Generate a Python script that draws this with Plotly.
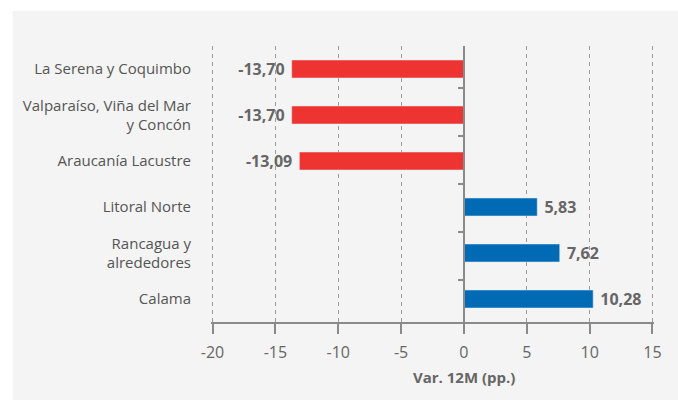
import plotly.graph_objects as go

categories = ["La Serena y Coquimbo", "Valparaíso, Viña del Mar<br>y Concón", "Araucanía Lacustre",
              "Litoral Norte", "Rancagua y<br>alrededores", "Calama"]
values = [-13.70, -13.70, -13.09, 5.83, 7.62, 10.28]
x_ticks = [-20, -15, -10, -5, 0, 5, 10, 15]
x_title = "Var. 12M (pp.)"

RED = "#ee3431"
BLUE = "#006ab5"
colors = [RED if v < 0 else BLUE for v in values]
labels = [(f"{v:.2f}".replace(".", ",") + " ") if v < 0 else (" " + f"{v:.2f}".replace(".", ","))
          for v in values]

FONT = "Open Sans"
X_RANGE = [-20.12, 15.12]

fig = go.Figure()
fig.add_trace(go.Bar(
    x=values, y=categories, orientation="h", marker_color=colors, width=0.39,
    text=labels, textposition="outside", cliponaxis=False, constraintext="none",
    textfont=dict(family=FONT, size=16, color="#666666", weight="bold"),
    hoverinfo="skip",
))
# invisible trace to carry the zero axis with boundary ticks
fig.add_trace(go.Scatter(
    x=[0] * len(categories), y=categories, yaxis="y2", mode="markers",
    marker=dict(opacity=0), hoverinfo="skip", showlegend=False,
))

fig.update_layout(
    width=678, height=400,
    margin=dict(l=211, r=24, t=46, b=78),
    paper_bgcolor="white",
    plot_bgcolor="rgba(0,0,0,0)",
    showlegend=False,
    font=dict(family=FONT, color="#555555"),
    xaxis=dict(
        range=X_RANGE, tickvals=x_ticks, ticktext=[str(t) for t in x_ticks],
        showgrid=True, gridcolor="#9a9a9a", griddash="4px,4px", gridwidth=1,
        zeroline=False, showline=True, linecolor="#8a8a8a", linewidth=1.5,
        ticks="outside", ticklen=10, tickcolor="#8a8a8a", tickwidth=1.5,
        ticklabelstandoff=5,
        tickfont=dict(size=16, color="#666666"),
    ),
    yaxis=dict(
        categoryorder="array", categoryarray=categories, autorange="reversed",
        showgrid=False, zeroline=False, showline=False, ticks="",
        ticklabelstandoff=19, tickfont=dict(size=15, color="#555555"),
    ),
    yaxis2=dict(
        overlaying="y", anchor="free", position=(0 - X_RANGE[0]) / (X_RANGE[1] - X_RANGE[0]), side="left",
        categoryorder="array", categoryarray=categories, autorange="reversed",
        showgrid=False, zeroline=False, showline=True, linecolor="#8a8a8a", linewidth=1.5,
        ticks="outside", tickson="boundaries", ticklen=5, tickcolor="#8a8a8a", tickwidth=1.5,
        showticklabels=False,
    ),
    shapes=[dict(type="rect", xref="paper", yref="paper", x0=-0.448, x1=1.2, y0=-0.5, y1=1.1268,
                 fillcolor="#f4f4f4", line=dict(width=0), layer="below")],
    annotations=[dict(text=x_title, xref="x", x=0, yref="paper", y=-0.2, yanchor="middle",
                      showarrow=False, font=dict(size=15, color="#666666", weight="bold"))],
)

fig.write_html("out.html", config={"displayModeBar": False},
               post_script="document.body.style.margin='0px';")
